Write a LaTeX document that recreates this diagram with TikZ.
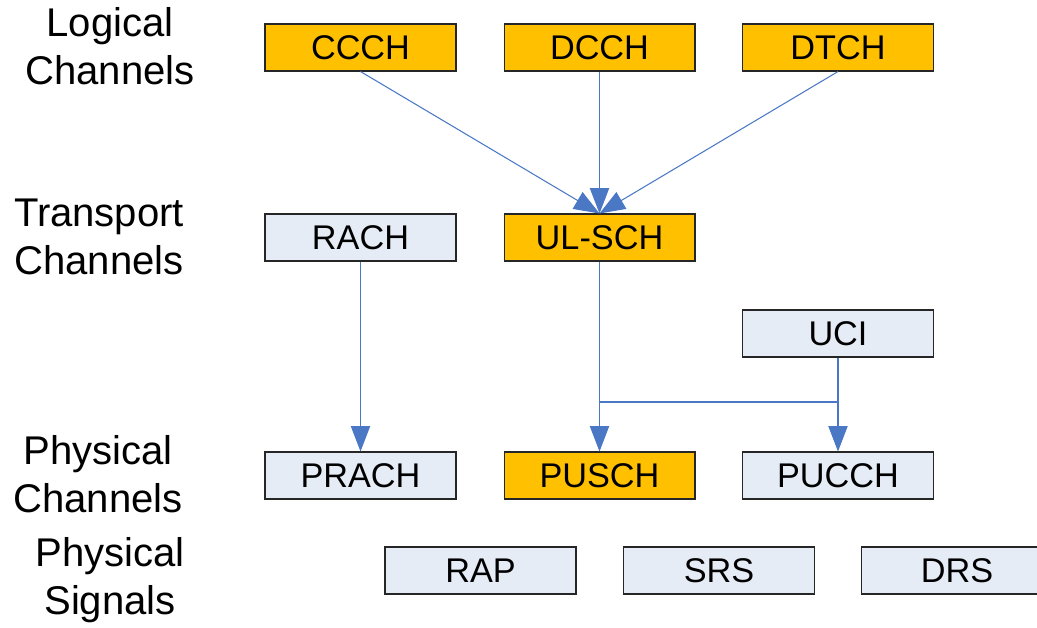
\documentclass[tikz,border=0pt]{standalone}
\usepackage{fontspec}
\setmainfont{Liberation Sans}
\usetikzlibrary{arrows.meta}
\definecolor{chorange}{HTML}{FFC000}
\definecolor{chblue}{HTML}{E6ECF6}
\definecolor{arrblue}{HTML}{4A78C4}
\tikzset{
	chbox/.style={draw=black!85, line width=0.6pt, minimum width=3.82cm, minimum height=0.94cm, inner sep=0pt, font=\fontsize{19.5}{22}\selectfont},
	hot/.style={chbox, fill=chorange},
	cold/.style={chbox, fill=chblue},
	layer/.style={align=center, font=\fontsize{22.8}{27}\selectfont},
	flow/.style={draw=arrblue, line width=0.6pt, -{Triangle[width=11pt,length=14.5pt]}}
}
\begin{document}
\begin{tikzpicture}[x=0.02cm, y=-0.02cm]
	\useasboundingbox (0,0) rectangle (1037,627);
	\clip (0,0) rectangle (1037,627);
	% layer titles
	\node[layer] (tlog) at (110,46) {Logical\\Channels};
	\node[layer] (ttra) at (99,237) {Transport\\Channels};
	\node[layer] (tphy) at (98,474) {Physical\\Channels};
	\node[layer] (tsig) at (110,580) {Physical\\Signals};
	% logical
	\node[hot] (ccch) at (360.5,47.5) {CCCH};
	\node[hot] (dcch) at (599.5,47.5) {DCCH};
	\node[hot] (dtch) at (838,47.5) {DTCH};
	% transport
	\node[cold] (rach) at (360.5,237.5) {RACH};
	\node[hot] (ulsch) at (599.5,237.5) {UL-SCH};
	\node[cold] (uci) at (838,333.5) {UCI};
	% physical
	\node[cold] (prach) at (360.5,475.5) {PRACH};
	\node[hot] (pusch) at (599.5,475.5) {PUSCH};
	\node[cold] (pucch) at (838,475.5) {PUCCH};
	\node[cold] (rap) at (480.5,570.5) {RAP};
	\node[cold] (srs) at (719,570.5) {SRS};
	\node[cold] (drs) at (957,570.5) {DRS};
	% connectors
	\foreach \src in {ccch, dcch, dtch} { \draw[flow] (\src.south) -- (ulsch.north); }
	\draw[flow] (rach) -- (prach);
	\draw[flow] (ulsch) -- (pusch);
	\draw[flow] (uci) -- (pucch);
	\coordinate (jl) at (599.5,402);
	\coordinate (jr) at (838,402);
	\draw[arrblue, line width=0.6pt] (jl) -- (jr);
\end{tikzpicture}
\end{document}
